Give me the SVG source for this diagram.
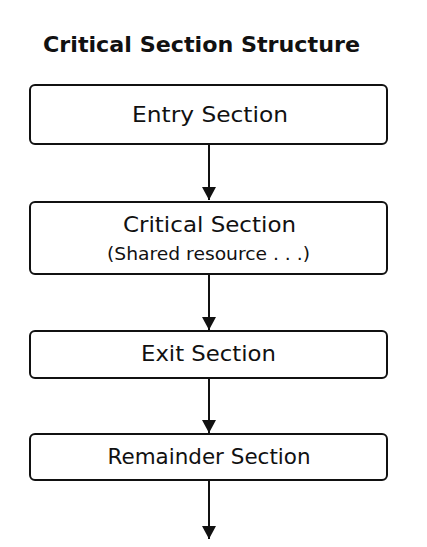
<svg xmlns="http://www.w3.org/2000/svg" width="427" height="547" viewBox="0 0 427 547">
<style>
.box{fill:#fff;stroke:#111;stroke-width:2}
.t{font-family:"DejaVu Sans","Noto Sans",sans-serif;fill:#111;text-anchor:middle}
.edge{stroke:#111;stroke-width:2;fill:none}
</style>
<defs>
<marker id="ah" markerWidth="13" markerHeight="14" refX="13" refY="7" orient="auto" markerUnits="userSpaceOnUse">
<path d="M0,0 L13,7 L0,14 Z" fill="#111"/>
</marker>
</defs>
<rect width="427" height="547" fill="#fff"/>
<text x="43" y="51.5" font-family="DejaVu Sans, Noto Sans, sans-serif" font-weight="bold" font-size="21" fill="#111" textLength="317" lengthAdjust="spacingAndGlyphs">Critical Section Structure</text>
<g id="entry">
<rect class="box" x="30" y="85" width="357" height="59" rx="5"/>
<text class="t" x="210" y="122" font-size="21.5" textLength="156" lengthAdjust="spacingAndGlyphs">Entry Section</text>
</g>
<g id="critical">
<rect class="box" x="30" y="202" width="357" height="72" rx="5"/>
<text class="t" x="209.5" y="232" font-size="21.5" textLength="173" lengthAdjust="spacingAndGlyphs">Critical Section</text>
<text class="t" x="208.5" y="260" font-size="17" textLength="203" lengthAdjust="spacingAndGlyphs">(Shared resource . . .)</text>
</g>
<g id="exit">
<rect class="box" x="30" y="331" width="357" height="47" rx="5"/>
<text class="t" x="208.5" y="361" font-size="21.5" textLength="135" lengthAdjust="spacingAndGlyphs">Exit Section</text>
</g>
<g id="remainder">
<rect class="box" x="30" y="434" width="357" height="46" rx="5"/>
<text class="t" x="209" y="463.5" font-size="20.5" textLength="203" lengthAdjust="spacingAndGlyphs">Remainder Section</text>
</g>
<g id="connectors">
<line class="edge" x1="209" y1="144" x2="209" y2="200" marker-end="url(#ah)"/>
<line class="edge" x1="209" y1="274" x2="209" y2="330" marker-end="url(#ah)"/>
<line class="edge" x1="209" y1="378" x2="209" y2="433" marker-end="url(#ah)"/>
<line class="edge" x1="209" y1="480" x2="209" y2="539" marker-end="url(#ah)"/>
</g>
</svg>
